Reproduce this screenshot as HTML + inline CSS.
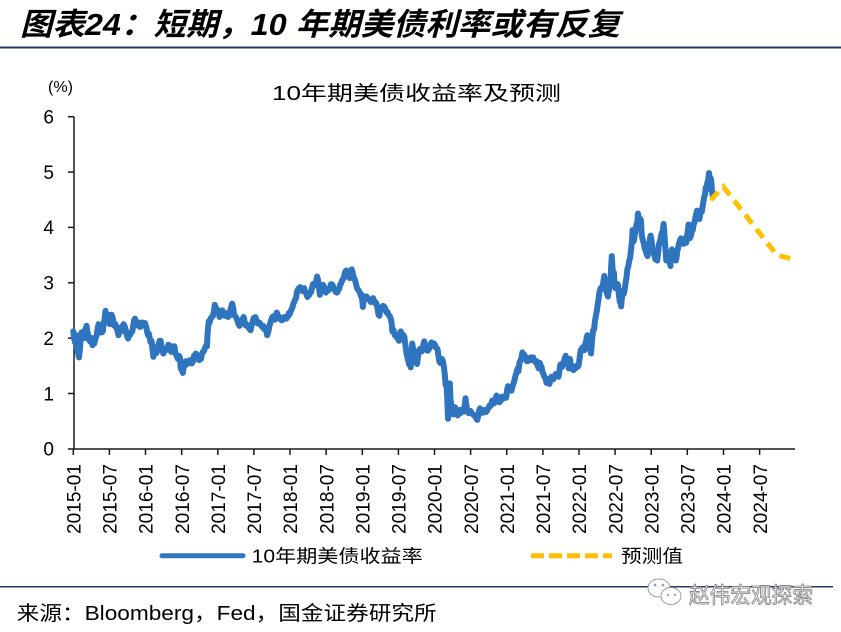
<!DOCTYPE html>
<html><head><meta charset="utf-8"><style>
html,body{margin:0;padding:0;background:#fff;}
svg{display:block;}
.cj{font-family:"Liberation Sans","Noto Sans CJK SC",sans-serif;}
</style></head><body>
<svg width="841" height="632" viewBox="0 0 841 632" xmlns="http://www.w3.org/2000/svg">
<rect width="841" height="632" fill="#fff"/>
<!-- main title -->
<text class="cj" x="20" y="35" font-size="31" font-weight="bold" font-style="italic" fill="#000" textLength="600" lengthAdjust="spacingAndGlyphs">图表24：短期，10 年期美债利率或有反复</text>
<line x1="0" y1="47.5" x2="841" y2="47.5" stroke="#1F3C5E" stroke-width="2"/>

<!-- chart title -->
<text class="cj" x="272" y="100" font-size="20" fill="#000" textLength="289" lengthAdjust="spacingAndGlyphs">10年期美债收益率及预测</text>
<text class="cj" x="48" y="92" font-size="16" fill="#000" textLength="25" lengthAdjust="spacingAndGlyphs">(%)</text>

<!-- y labels -->
<g font-family="Liberation Sans, sans-serif" font-size="19" fill="#000" text-anchor="end">
<text x="54" y="123.5">6</text>
<text x="54" y="178.9">5</text>
<text x="54" y="234.2">4</text>
<text x="54" y="289.6">3</text>
<text x="54" y="344.9">2</text>
<text x="54" y="400.3">1</text>
<text x="54" y="455.6">0</text>
</g>

<!-- axes -->
<g stroke="#1a1a1a" stroke-width="1.5" fill="none">
<line x1="74" y1="116.7" x2="74" y2="449"/>
<line x1="68" y1="449" x2="795" y2="449"/>
<line x1="68" y1="116.7" x2="74" y2="116.7"/>
<line x1="68" y1="172.1" x2="74" y2="172.1"/>
<line x1="68" y1="227.4" x2="74" y2="227.4"/>
<line x1="68" y1="282.8" x2="74" y2="282.8"/>
<line x1="68" y1="338.1" x2="74" y2="338.1"/>
<line x1="68" y1="393.5" x2="74" y2="393.5"/>
<line x1="73.3" y1="449" x2="73.3" y2="455"/>
<line x1="109.4" y1="449" x2="109.4" y2="455"/>
<line x1="145.5" y1="449" x2="145.5" y2="455"/>
<line x1="181.7" y1="449" x2="181.7" y2="455"/>
<line x1="217.8" y1="449" x2="217.8" y2="455"/>
<line x1="253.9" y1="449" x2="253.9" y2="455"/>
<line x1="290.0" y1="449" x2="290.0" y2="455"/>
<line x1="326.1" y1="449" x2="326.1" y2="455"/>
<line x1="362.3" y1="449" x2="362.3" y2="455"/>
<line x1="398.4" y1="449" x2="398.4" y2="455"/>
<line x1="434.5" y1="449" x2="434.5" y2="455"/>
<line x1="470.6" y1="449" x2="470.6" y2="455"/>
<line x1="506.7" y1="449" x2="506.7" y2="455"/>
<line x1="542.9" y1="449" x2="542.9" y2="455"/>
<line x1="579.0" y1="449" x2="579.0" y2="455"/>
<line x1="615.1" y1="449" x2="615.1" y2="455"/>
<line x1="651.2" y1="449" x2="651.2" y2="455"/>
<line x1="687.3" y1="449" x2="687.3" y2="455"/>
<line x1="723.5" y1="449" x2="723.5" y2="455"/>
<line x1="759.6" y1="449" x2="759.6" y2="455"/>
</g>

<!-- x labels -->
<g font-family="Liberation Sans, sans-serif" font-size="19" fill="#000" text-anchor="end">
<text transform="translate(80.5,464) rotate(-90)" textLength="70" lengthAdjust="spacingAndGlyphs">2015-01</text>
<text transform="translate(116.6,464) rotate(-90)" textLength="70" lengthAdjust="spacingAndGlyphs">2015-07</text>
<text transform="translate(152.7,464) rotate(-90)" textLength="70" lengthAdjust="spacingAndGlyphs">2016-01</text>
<text transform="translate(188.9,464) rotate(-90)" textLength="70" lengthAdjust="spacingAndGlyphs">2016-07</text>
<text transform="translate(225.0,464) rotate(-90)" textLength="70" lengthAdjust="spacingAndGlyphs">2017-01</text>
<text transform="translate(261.1,464) rotate(-90)" textLength="70" lengthAdjust="spacingAndGlyphs">2017-07</text>
<text transform="translate(297.2,464) rotate(-90)" textLength="70" lengthAdjust="spacingAndGlyphs">2018-01</text>
<text transform="translate(333.3,464) rotate(-90)" textLength="70" lengthAdjust="spacingAndGlyphs">2018-07</text>
<text transform="translate(369.5,464) rotate(-90)" textLength="70" lengthAdjust="spacingAndGlyphs">2019-01</text>
<text transform="translate(405.6,464) rotate(-90)" textLength="70" lengthAdjust="spacingAndGlyphs">2019-07</text>
<text transform="translate(441.7,464) rotate(-90)" textLength="70" lengthAdjust="spacingAndGlyphs">2020-01</text>
<text transform="translate(477.8,464) rotate(-90)" textLength="70" lengthAdjust="spacingAndGlyphs">2020-07</text>
<text transform="translate(513.9,464) rotate(-90)" textLength="70" lengthAdjust="spacingAndGlyphs">2021-01</text>
<text transform="translate(550.1,464) rotate(-90)" textLength="70" lengthAdjust="spacingAndGlyphs">2021-07</text>
<text transform="translate(586.2,464) rotate(-90)" textLength="70" lengthAdjust="spacingAndGlyphs">2022-01</text>
<text transform="translate(622.3,464) rotate(-90)" textLength="70" lengthAdjust="spacingAndGlyphs">2022-07</text>
<text transform="translate(658.4,464) rotate(-90)" textLength="70" lengthAdjust="spacingAndGlyphs">2023-01</text>
<text transform="translate(694.5,464) rotate(-90)" textLength="70" lengthAdjust="spacingAndGlyphs">2023-07</text>
<text transform="translate(730.7,464) rotate(-90)" textLength="70" lengthAdjust="spacingAndGlyphs">2024-01</text>
<text transform="translate(766.8,464) rotate(-90)" textLength="70" lengthAdjust="spacingAndGlyphs">2024-07</text>
</g>

<!-- blue series -->
<g transform="translate(73.3,448.7) scale(6.02,-55.35)">
<polyline fill="none" stroke="#2E74BE" stroke-width="6" stroke-linejoin="round" stroke-linecap="round" vector-effect="non-scaling-stroke" points="
0,2.12 0.15,1.98 0.3,1.92 0.45,2.05 0.6,1.80 0.8,1.72 0.95,1.65 1.1,1.80 1.2,1.95 1.35,2.10 1.5,2.05 1.7,2.12 1.9,2.00 2.05,2.15 2.2,2.22 2.35,2.10 2.5,2.05 2.7,1.95 2.9,1.93 3.05,2.00 3.2,1.87 3.35,1.95 3.5,1.90 3.7,2.00 3.9,2.05 4.05,2.18 4.2,2.25 4.35,2.14 4.5,2.20 4.7,2.10 4.9,2.12 5.05,2.25 5.2,2.35 5.35,2.49 5.5,2.38 5.6,2.32 5.75,2.42 5.9,2.38 6.05,2.25 6.2,2.30 6.35,2.42 6.5,2.38 6.65,2.30 6.8,2.22 7.0,2.25 7.2,2.18 7.35,2.12 7.5,2.05 7.65,2.10 7.8,2.18 8.0,2.20 8.2,2.13 8.35,2.25 8.5,2.22 8.7,2.15 8.9,2.05 9.1,1.99 9.25,2.08 9.4,2.05 9.6,2.10 9.8,2.12 9.95,2.22 10.1,2.32 10.25,2.35 10.4,2.27 10.6,2.25 10.8,2.22 10.95,2.28 11.1,2.20 11.3,2.22 11.5,2.28 11.7,2.25 11.9,2.27
12.1,2.20 12.25,2.12 12.4,2.05 12.55,2.08 12.7,2.00 12.85,1.92 13.0,1.95 13.15,1.80 13.3,1.66 13.45,1.75 13.6,1.78 13.75,1.72 13.9,1.75 14.05,1.85 14.2,1.90 14.35,1.95 14.5,1.95 14.65,1.85 14.8,1.80 14.95,1.72 15.1,1.75 15.25,1.80 15.4,1.78 15.6,1.82 15.8,1.88 15.95,1.85 16.1,1.80 16.25,1.75 16.4,1.85 16.6,1.82 16.8,1.85 16.95,1.72 17.1,1.70 17.25,1.65 17.4,1.62 17.55,1.68 17.7,1.65 17.85,1.45 18.0,1.43 18.2,1.37 18.35,1.48 18.5,1.55 18.65,1.58 18.8,1.52 19.0,1.58 19.2,1.55 19.35,1.60 19.5,1.57 19.7,1.54 19.9,1.58 20.05,1.68 20.2,1.62 20.35,1.72 20.5,1.70 20.7,1.62 20.9,1.60 21.05,1.64 21.2,1.62 21.35,1.70 21.5,1.75 21.7,1.76 21.9,1.83 22.05,1.86 22.2,1.85 22.3,2.06 22.4,2.20 22.5,2.30 22.65,2.28 22.8,2.35 23.0,2.38 23.2,2.40 23.35,2.48 23.5,2.60 23.65,2.55 23.8,2.50 23.9,2.52 24.0,2.45
24.15,2.45 24.3,2.38 24.45,2.40 24.6,2.48 24.75,2.50 24.9,2.46 25.05,2.42 25.2,2.40 25.35,2.45 25.5,2.42 25.7,2.38 25.9,2.40 26.05,2.48 26.2,2.55 26.4,2.62 26.55,2.55 26.7,2.42 26.85,2.40 27.0,2.38 27.15,2.35 27.3,2.30 27.45,2.25 27.6,2.22 27.8,2.28 28.0,2.30 28.15,2.35 28.3,2.38 28.45,2.30 28.6,2.23 28.75,2.25 28.9,2.21 29.05,2.20 29.2,2.17 29.45,2.14 29.6,2.22 29.8,2.30 29.95,2.36 30.1,2.35 30.25,2.38 30.4,2.33 30.55,2.27 30.7,2.26 30.9,2.28 31.1,2.25 31.25,2.22 31.4,2.20 31.55,2.22 31.7,2.16 31.85,2.18 32.0,2.15 32.1,2.10 32.2,2.05 32.4,2.12 32.6,2.23 32.75,2.28 32.9,2.33 33.05,2.38 33.2,2.36 33.35,2.40 33.5,2.33 33.65,2.38 33.8,2.46 33.95,2.42 34.1,2.38 34.25,2.35 34.4,2.37 34.6,2.32 34.8,2.33 34.95,2.36 35.1,2.38 35.25,2.36 35.4,2.35 35.6,2.38 35.8,2.45 35.9,2.42
36.1,2.48 36.25,2.52 36.4,2.55 36.55,2.62 36.7,2.65 36.85,2.70 37.0,2.72 37.1,2.80 37.2,2.85 37.35,2.88 37.5,2.90 37.7,2.92 37.9,2.86 38.05,2.85 38.2,2.88 38.35,2.90 38.5,2.85 38.7,2.80 38.9,2.74 39.05,2.78 39.2,2.78 39.35,2.82 39.5,2.83 39.65,2.90 39.8,2.97 39.95,2.98 40.1,2.95 40.3,3.00 40.5,3.11 40.65,3.05 40.8,2.93 40.95,2.78 41.05,2.85 41.2,2.92 41.35,2.95 41.5,2.96 41.65,2.92 41.8,2.87 41.95,2.82 42.1,2.85 42.25,2.86 42.4,2.86 42.6,2.90 42.8,2.97 42.95,2.97 43.1,2.95 43.25,2.90 43.4,2.87 43.6,2.83 43.8,2.82 44.0,2.86 44.2,2.90 44.35,2.97 44.5,2.99 44.7,3.05 44.9,3.08 45.05,3.15 45.2,3.20 45.35,3.22 45.5,3.16 45.65,3.18 45.8,3.10 45.95,3.08 46.1,3.13 46.25,3.24 46.4,3.18 46.5,3.12 46.65,3.08 46.8,3.05 46.95,2.98 47.1,2.91 47.25,2.88 47.4,2.86 47.6,2.82 47.8,2.75 47.9,2.78 48.0,2.68
48.1,2.56 48.25,2.68 48.4,2.73 48.55,2.75 48.7,2.75 48.9,2.72 49.1,2.70 49.25,2.68 49.4,2.65 49.6,2.68 49.8,2.72 49.95,2.68 50.1,2.63 50.25,2.64 50.4,2.61 50.55,2.52 50.7,2.42 50.85,2.40 51.0,2.50 51.15,2.52 51.3,2.55 51.45,2.58 51.6,2.57 51.75,2.55 51.9,2.50 52.05,2.46 52.2,2.47 52.35,2.42 52.5,2.40 52.65,2.38 52.8,2.32 52.9,2.25 53.0,2.12 53.15,2.15 53.3,2.10 53.4,2.05 53.5,2.08 53.65,2.02 53.8,2.00 53.95,2.05 54.1,1.95 54.25,2.05 54.4,2.12 54.55,2.08 54.7,2.06 54.85,2.05 55.0,2.02 55.1,1.92 55.2,1.85 55.35,1.72 55.5,1.65 55.65,1.58 55.8,1.52 55.95,1.55 56.05,1.47 56.15,1.60 56.3,1.90 56.45,1.80 56.6,1.75 56.75,1.72 56.9,1.68 57.0,1.60 57.1,1.53 57.25,1.65 57.4,1.76 57.55,1.80 57.7,1.78 57.9,1.76 58.1,1.84 58.2,1.90 58.3,1.94 58.45,1.86 58.6,1.82 58.75,1.78 58.9,1.77 59.05,1.80 59.2,1.82 59.35,1.88 59.5,1.92 59.7,1.88 59.9,1.90
60.05,1.88 60.2,1.83 60.35,1.82 60.5,1.80 60.65,1.68 60.8,1.58 60.95,1.55 61.1,1.55 61.25,1.62 61.4,1.58 61.55,1.48 61.7,1.35 61.85,1.15 62.0,1.13 62.1,0.95 62.25,0.54 62.35,0.80 62.4,0.95 62.5,1.05 62.55,1.18 62.65,0.90 62.8,0.75 62.95,0.68 63.1,0.62 63.25,0.70 63.4,0.75 63.55,0.66 63.7,0.63 63.85,0.60 64.0,0.65 64.15,0.70 64.3,0.64 64.45,0.66 64.6,0.68 64.75,0.72 64.9,0.67 65.05,0.80 65.15,0.91 65.25,0.82 65.4,0.72 65.55,0.68 65.7,0.64 65.85,0.66 66.0,0.68 66.2,0.64 66.4,0.62 66.6,0.60 66.8,0.58 66.95,0.55 67.1,0.52 67.25,0.58 67.4,0.68 67.55,0.73 67.7,0.70 67.85,0.68 68.0,0.65 68.15,0.70 68.3,0.68 68.5,0.66 68.7,0.68 68.85,0.72 69.0,0.75 69.15,0.78 69.3,0.77 69.45,0.82 69.6,0.87 69.75,0.85 69.9,0.82 70.1,0.88 70.3,0.96 70.45,0.90 70.6,0.88 70.75,0.84 70.9,0.85 71.05,0.92 71.2,0.94 71.35,0.90 71.5,0.93 71.7,0.92 71.9,0.92
72.05,1.05 72.2,1.13 72.35,1.10 72.5,1.10 72.65,1.05 72.8,1.05 72.95,1.12 73.1,1.17 73.25,1.22 73.4,1.30 73.6,1.37 73.8,1.45 73.95,1.40 74.1,1.55 74.25,1.58 74.4,1.62 74.5,1.68 74.6,1.74 74.75,1.68 74.9,1.70 75.05,1.67 75.2,1.62 75.35,1.58 75.5,1.58 75.65,1.60 75.8,1.63 75.95,1.65 76.1,1.60 76.25,1.62 76.4,1.65 76.55,1.60 76.7,1.58 76.85,1.55 77.0,1.58 77.15,1.50 77.3,1.45 77.4,1.52 77.5,1.55 77.65,1.50 77.8,1.47 77.95,1.38 78.1,1.35 78.25,1.30 78.4,1.28 78.5,1.25 78.6,1.19 78.75,1.23 78.9,1.25 79.0,1.20 79.1,1.17 79.25,1.25 79.4,1.30 79.55,1.28 79.7,1.25 79.85,1.28 80.0,1.30 80.15,1.35 80.3,1.33 80.45,1.32 80.6,1.30 80.75,1.40 80.9,1.52 81.05,1.50 81.2,1.48 81.35,1.55 81.5,1.58 81.65,1.64 81.8,1.68 81.9,1.62 82.0,1.55 82.15,1.58 82.3,1.45 82.4,1.55 82.5,1.62 82.65,1.50 82.8,1.48 82.95,1.43 83.1,1.42 83.25,1.48 83.4,1.45 83.6,1.50 83.8,1.48 83.95,1.51
84.1,1.63 84.2,1.72 84.3,1.78 84.45,1.80 84.6,1.83 84.75,1.80 84.9,1.78 85.05,1.90 85.2,1.95 85.3,2.02 85.4,2.05 85.55,1.98 85.7,1.93 85.85,1.82 86.0,1.72 86.1,1.85 86.2,2.00 86.35,2.14 86.5,2.15 86.65,2.30 86.8,2.40 86.95,2.48 87.1,2.60 87.25,2.70 87.4,2.83 87.6,2.90 87.8,2.88 88.0,2.98 88.2,3.12 88.35,3.00 88.5,2.90 88.65,2.80 88.8,2.75 88.95,2.85 89.1,2.93 89.25,3.05 89.35,3.30 89.45,3.48 89.55,3.30 89.7,3.10 89.8,3.18 89.9,2.98 90.05,2.90 90.2,2.90 90.35,2.98 90.5,2.95 90.65,2.75 90.8,2.65 90.9,2.68 91.0,2.57 91.15,2.75 91.3,2.85 91.45,2.80 91.6,2.88 91.75,3.00 91.9,3.10 92.05,3.25 92.2,3.30 92.35,3.40 92.5,3.45 92.65,3.60 92.8,3.75 92.9,3.95 93.0,3.80 93.1,3.75 93.25,3.85 93.4,3.95 93.55,4.05 93.7,4.10 93.8,4.25 93.95,4.15 94.1,4.05 94.2,4.15 94.3,4.12 94.4,3.90 94.5,3.82 94.65,3.75 94.8,3.70 94.9,3.62 95.0,3.60 95.15,3.55 95.3,3.50 95.4,3.48 95.5,3.60 95.65,3.68 95.8,3.80 95.9,3.85 96.0,3.80
96.1,3.72 96.25,3.60 96.4,3.53 96.55,3.48 96.7,3.42 96.85,3.50 97.0,3.40 97.15,3.55 97.3,3.70 97.45,3.75 97.6,3.82 97.75,3.90 97.9,3.92 98.05,4.06 98.15,3.95 98.3,3.70 98.4,3.55 98.5,3.40 98.65,3.50 98.8,3.55 98.9,3.48 99.0,3.43 99.1,3.35 99.2,3.30 99.35,3.55 99.45,3.60 99.6,3.50 99.75,3.45 99.9,3.44 100.0,3.48 100.1,3.40 100.2,3.45 100.3,3.55 100.45,3.62 100.6,3.70 100.75,3.75 100.9,3.80 101.05,3.72 101.2,3.75 101.35,3.70 101.5,3.75 101.65,3.80 101.8,3.72 101.95,3.85 102.1,3.95 102.2,4.05 102.3,3.90 102.4,3.80 102.5,3.82 102.6,3.85 102.75,3.92 102.9,3.95 103.05,4.05 103.2,4.10 103.35,4.18 103.5,4.25 103.6,4.30 103.7,4.30 103.85,4.20 104.0,4.15 104.15,4.25 104.3,4.30 104.4,4.28 104.5,4.35 104.65,4.45 104.8,4.55 104.95,4.60 105.05,4.72 105.15,4.68 105.3,4.80 105.45,4.85 105.6,4.98 105.7,4.90 105.8,4.85 105.9,4.88 106.0,4.80 106.1,4.65 106.2,4.58 106.25,4.55
"/>
</g>

<!-- forecast -->
<path d="M710.7,200 L723.3,186.7 L776.7,255 L793.3,259.3" fill="none" stroke="#FFC000" stroke-width="5" stroke-dasharray="11 7"/>

<!-- legend -->
<line x1="162" y1="555.7" x2="243" y2="555.7" stroke="#2E74BE" stroke-width="5" stroke-linecap="round"/>
<text class="cj" x="251.7" y="562.5" font-size="18" fill="#000" textLength="171" lengthAdjust="spacingAndGlyphs">10年期美债收益率</text>
<line x1="531" y1="555.7" x2="612" y2="555.7" stroke="#FFC000" stroke-width="5" stroke-dasharray="13 5"/>
<text class="cj" x="621" y="562.5" font-size="18" fill="#000" textLength="62" lengthAdjust="spacingAndGlyphs">预测值</text>

<!-- footer -->
<line x1="0" y1="586.7" x2="833" y2="586.7" stroke="#1F3C5E" stroke-width="1.5"/>
<text class="cj" x="16.7" y="620" font-size="20" fill="#000" textLength="420" lengthAdjust="spacingAndGlyphs">来源：Bloomberg，Fed，国金证券研究所</text>

<!-- watermark -->
<g fill="#fff" stroke="#9a9a9a" stroke-width="1" opacity="0.95">
<ellipse cx="659" cy="588" rx="11" ry="9"/>
<ellipse cx="671" cy="596" rx="10" ry="8.5"/>
</g>
<g fill="#9a9a9a">
<circle cx="655" cy="585" r="1.3"/><circle cx="663" cy="585" r="1.3"/>
<circle cx="668" cy="595" r="1.1"/><circle cx="675" cy="595" r="1.1"/>
</g>
<text class="cj" x="689" y="603" font-size="22" fill="#fff" stroke="#8a8a8a" stroke-width="0.9" textLength="124" lengthAdjust="spacingAndGlyphs">赵伟宏观探索</text>
</svg>
</body></html>
